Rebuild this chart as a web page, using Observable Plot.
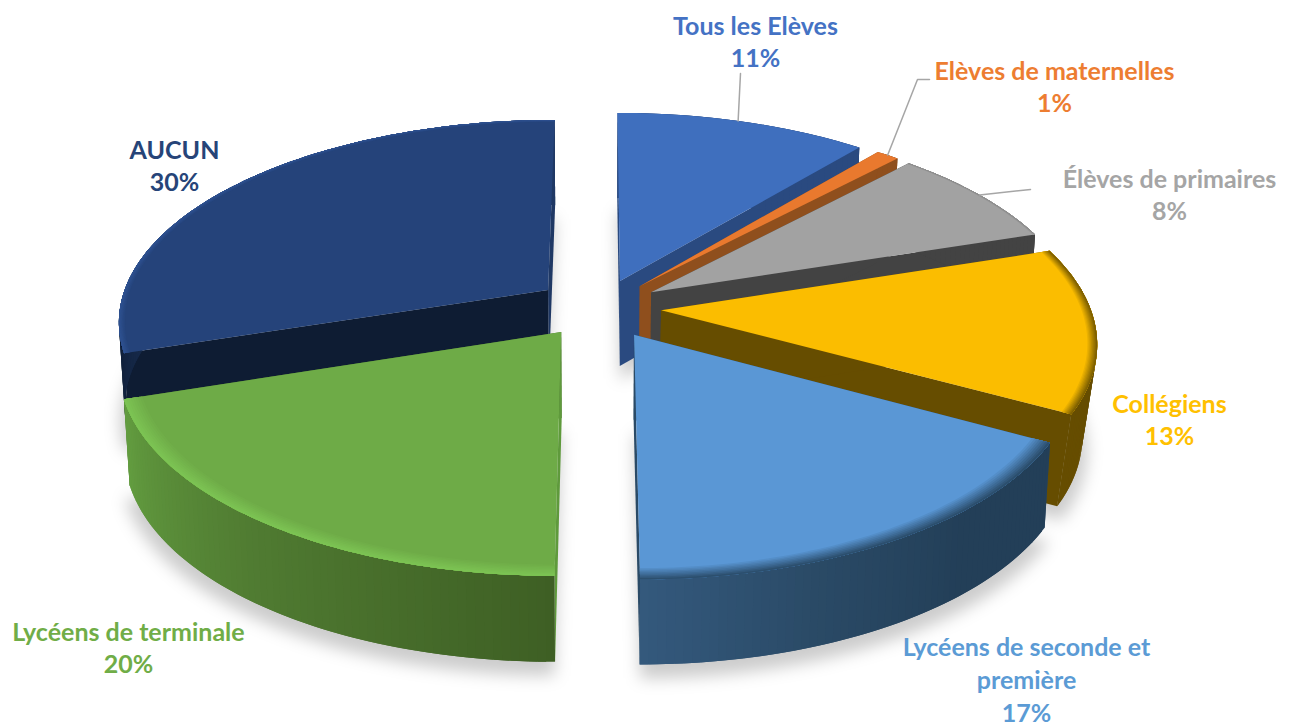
<!DOCTYPE html>
<html><head><meta charset="utf-8">
<script src="https://cdn.jsdelivr.net/npm/d3@7"></script>
<script src="https://cdn.jsdelivr.net/npm/@observablehq/plot@0.6"></script>
<style>html,body{margin:0;padding:0;background:#fff}svg{display:block}</style>
</head><body><div id="chart"></div>
<script>
// ---------- data ----------
const categories = ["Tous les Elèves","Elèves de maternelles","Élèves de primaires","Collégiens","Lycéens de seconde et\npremière","Lycéens de terminale","AUCUN"];
const shares = [11,1,8,13,17,20,30];
const topColors = ["#3f6fbe","#e9792e","#a2a2a2","#fbbd00","#5a97d5","#6eab47","#25437a"];
const textColors = ["#4472c4","#ed7d31","#a5a5a5","#ffc000","#5b9bd5","#70ad47","#264478"];
const nearFaceColors = ["#2a4a80","#8f4f1d","#434343","#664d00","#2a4a66","#5f9a3c","#0e1c33"];
const farFaceColors = ["#2a4a80","#8f4f1d","#434343","#664d00","#2a4a66","#4a7030","#1f3864"];
const rimColors = [["#2a4a80","#2a4a80"],["#8f4f1d","#8f4f1d"],["#434343","#434343"],["#664d00","#664d00"],["#233f58","#233f58","#2a4a66","#34597d"],["#3e5f24","#4f7a31","#639d40"],["#0e1c33","#1f3864","#1f3864"]];
const bevelColors = ["#3f6fbe","#e9792e","#8a8a8a","#7d5f00","#2c4f6e","#7cc353","#2e5190"];
const bevelWidths = [0,0,0.006,0.022,0.04,0.04,0.014];
const paintOrder = [0,1,2,3,6,4,5];
// ---------- layout ----------
const W=1293,H=728,cx=599,cy=307,R=429,Ry=200,persp=0.147;
const explodes=[0.144,0.144,0.144,0.144,0.155,0.149,0.15];
const wallShrink=[0.988,0.988,0.988,0.97,0.988,0.988,0.988];
const wallDepths=[0.425,0.425,0.425,0.46,0.425,0.43,0.425];
const labelCenters=[[755,40],[1054,85],[1169,193],[1169,418],[1026,678],[128,646],[174,164]];
const leaderElbows=[[[740,73]],[[917,79],[929,79]],[[1030,189]],[],[],[],[]];
const leaderFractions=[0.48,0.5,0.5,0,0,0,0];
const toX=p=>(p-cx)/R, toY=p=>(cy-p)/Ry;
const rad=d=>d*Math.PI/180;
// ---------- geometry from the shares ----------
const total=d3.sum(shares);
let acc=0;
const slices=shares.map((v,i)=>{const a0=acc/total*360;acc+=v;const a1=acc/total*360;return {i,a0,a1,m:(a0+a1)/2};});
function pt(s,t,r){const e=explodes[s.i],u=e*Math.sin(rad(s.m))+r*Math.sin(rad(t)),v=e*Math.cos(rad(s.m))+r*Math.cos(rad(t)),q=1/(1+persp*v);return [u*q,v*q];}
const low=i=>([x,y])=>[x*wallShrink[i],y-wallDepths[i]];
const polys=[];let pid=0;
function poly(list,out,c){const id=pid++;list.forEach(([x,y])=>out.push({x,y,id,c}));}
const range=(a,b,st)=>{const n=Math.max(1,Math.ceil((b-a)/st));return d3.range(n+1).map(k=>a+(b-a)*k/n);};
const shadows=[];
for(const s of slices){
  const arc=range(s.a0,s.a1,3).map(t=>pt(s,t,1.0));
  poly([pt(s,0,0),...arc].map(low(s.i)).map(([x,y])=>[x*1.01,y-0.07]),shadows,"#000");
}
for(const i of paintOrder){
  const s=slices[i],L=low(i);
  const apex=pt(s,0,0),ctl=topColors[i];
  [[s.a1,farFaceColors[i]],[s.a0,nearFaceColors[i]]].forEach(([t,c])=>{const e=pt(s,t,1);poly([apex,e,L(e),L(apex)],polys,c);});
  const ts=range(s.a0,s.a1,1);
  const ramp=d3.piecewise(d3.interpolateRgb,rimColors[i]);
  for(let j=0;j<ts.length-1;j++){
    const p=pt(s,ts[j],1),q=pt(s,ts[Math.min(j+2,ts.length-1)],1);
    poly([p,q,L(q),L(p)],polys,ramp((j+.5)/(ts.length-1)));
  }
  poly([apex,...ts.map(t=>pt(s,t,1))],polys,ctl);
  const bw=bevelWidths[i];
  if(bw>0){
    const steps=8;
    const outer=ts.map(t=>pt(s,t,1)).reverse();
    for(let b=0;b<steps;b++){
      const r0=1-bw*(1-b/steps);
      const col=d3.interpolateRgb(ctl,bevelColors[i])((b+1)/steps);
      poly([...ts.map(t=>pt(s,t,r0)),...outer],polys,col);
    }
  }
}
const labels=categories.map((name,i)=>({text:`${name}\n${shares[i]}%`,x:toX(labelCenters[i][0]),y:toY(labelCenters[i][1]),c:textColors[i]}));
const leaders=[];
slices.forEach((s,i)=>{if(!leaderElbows[i].length)return;
  const path=[pt(s,s.a0+(s.a1-s.a0)*leaderFractions[i],1),...leaderElbows[i].map(([a,b])=>[toX(a),toY(b)])];
  path.forEach(([x,y])=>leaders.push({x,y,id:i}));});
const chart=Plot.plot({
  width:W,height:H,margin:0,
  x:{domain:[toX(0),toX(W)],range:[0,W],axis:null},
  y:{domain:[toY(0),toY(H)],range:[0,H],axis:null},
  color:{type:"identity"},
  style:{background:"#fff"},
  marks:[
    Plot.line(shadows,{x:"x",y:"y",z:"id",fill:"#000",stroke:"none",fillOpacity:0.2,curve:"linear",imageFilter:"blur(8px)"}),
    Plot.line(polys,{x:"x",y:"y",z:"id",fill:"c",stroke:"none",curve:"linear"}),
    Plot.line(leaders,{x:"x",y:"y",z:"id",stroke:"#a6a6a6",strokeWidth:1.5,curve:"linear"}),
    Plot.text(labels,{x:"x",y:"y",text:"text",fill:"c",fontFamily:"Lato",fontWeight:700,fontSize:25,lineHeight:1.31,textAnchor:"middle",lineAnchor:"middle"})
  ]
});
document.getElementById("chart").append(chart);
</script></body></html>
